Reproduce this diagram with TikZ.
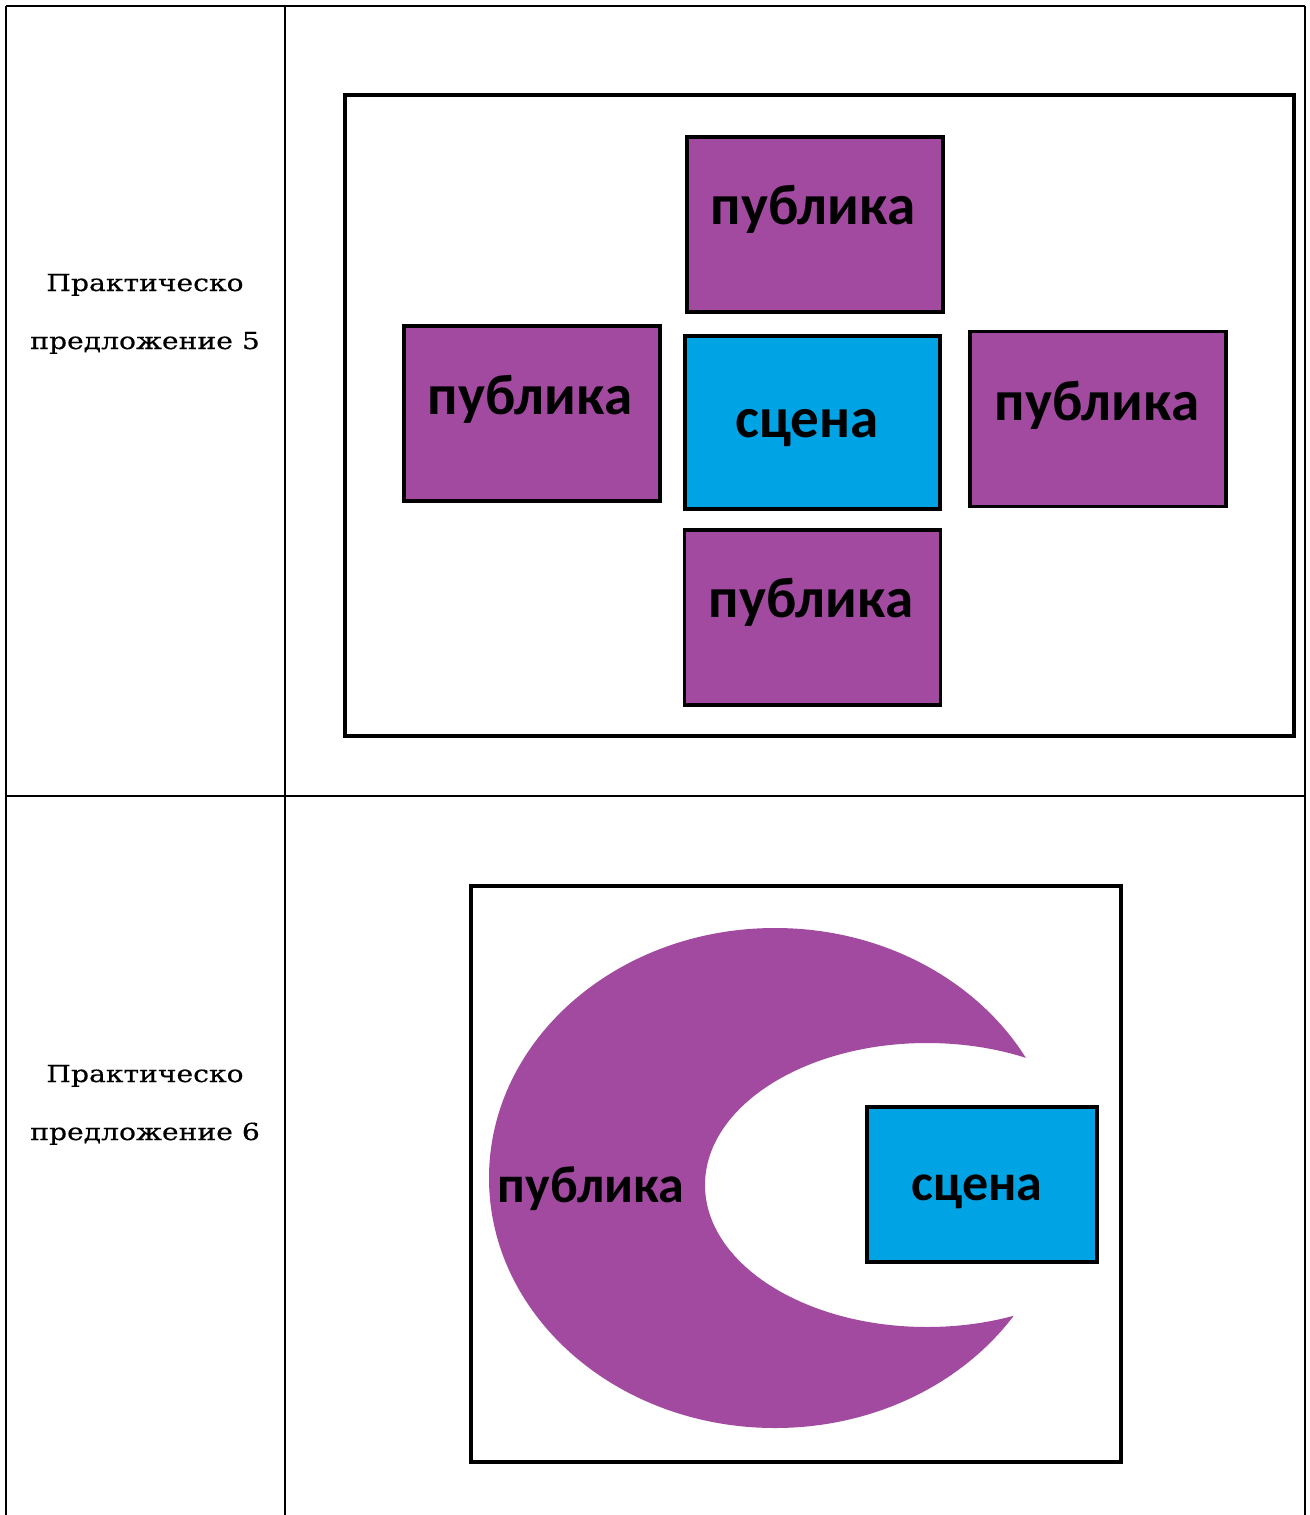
\documentclass[tikz,border=0pt]{standalone}
\usepackage{fontspec}
\setmainfont{DejaVu Serif}
\newfontfamily\sidefont[FakeStretch=1.2,FakeBold=0.4]{DejaVu Serif}
\newfontfamily\boxfont{Carlito}
\definecolor{pubcol}{RGB}{162,74,160}
\definecolor{scencol}{RGB}{0,163,228}
\begin{document}
\begin{tikzpicture}[x=1pt,y=-1pt,
  tablerule/.style={line width=2.6pt,black},
  frame/.style={line width=3.6pt,black},
  pubbox/.style={draw=black,line width=3.6pt,fill=pubcol,minimum width=256pt,minimum height=175pt,inner sep=0pt},
  scenbox/.style={draw=black,line width=3.6pt,fill=scencol,inner sep=0pt},
  lbl/.style={font=\boxfont\bfseries\fontsize{57}{62}\selectfont,anchor=base,inner sep=0pt},
  lblsm/.style={font=\boxfont\bfseries\fontsize{52}{58}\selectfont,anchor=base,inner sep=0pt},
  side/.style={font=\sidefont\fontsize{23.5}{28}\selectfont,anchor=base,inner sep=0pt}]
\useasboundingbox (0,0) rectangle (1309,1515);
\fill[white] (0,0) rectangle (1309,1515);
% table
\draw[tablerule] (6,6) -- (1305,6);
\draw[tablerule] (6,6) -- (6,1515);
\draw[tablerule] (285,6) -- (285,1515);
\draw[tablerule] (1305,6) -- (1305,1515);
\draw[tablerule] (6,796) -- (1305,796);
% left column texts
\node[side] (s5a) at (145,291) {Практическо};
\node[side] (s5b) at (145,349) {предложение 5};
\node[side] (s6a) at (145,1082) {Практическо};
\node[side] (s6b) at (145,1140) {предложение 6};
% proposal 5
\draw[frame] (345,95) rectangle (1294,736);
\node[pubbox] (ptop) at (815,224.5) {};
\node[pubbox] (pleft) at (532,413.5) {};
\node[scenbox,minimum width=255pt,minimum height=173pt] (sc5) at (812.5,422.5) {};
\node[pubbox] (pright) at (1098,419) {};
\node[pubbox] (pbot) at (812.5,617.5) {};
\node[lbl] (tptop) at (813,224) {публика};
\node[lbl] (tpleft) at (530,414) {публика};
\node[lbl] (tsc5) at (807,437) {сцена};
\node[lbl] (tpright) at (1097,420) {публика};
\node[lbl] (tpbot) at (811,617) {публика};
% proposal 6: crescent = outer ellipse outside the inner ellipse
\begin{scope}[even odd rule]
  \clip (420,860) rectangle (1200,1480)
        (927,1185) ellipse [x radius=222pt, y radius=142pt];
  \fill[pubcol] (775,1178) ellipse [x radius=286pt, y radius=250pt];
\end{scope}
\draw[frame,line width=3.2pt] (471,886) rectangle (1121,1462);
\node[scenbox,minimum width=230pt,minimum height=155pt] (sc6) at (982,1184.5) {};
\node[lblsm] (tpub6) at (591,1202) {публика};
\node[lblsm] (tsc6) at (977,1200) {сцена};
\end{tikzpicture}
\end{document}
